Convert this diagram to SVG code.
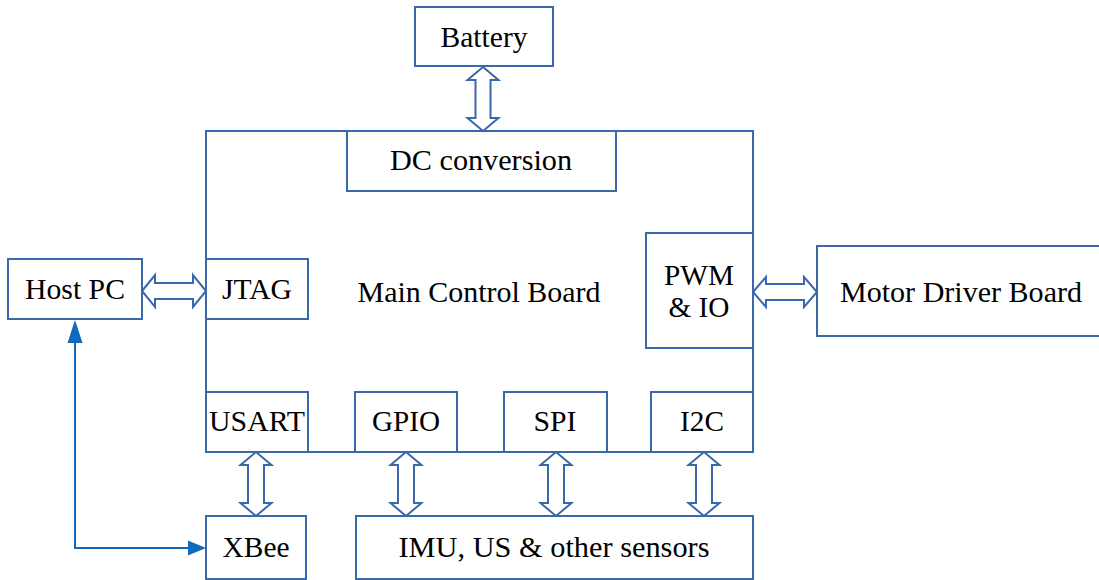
<svg xmlns="http://www.w3.org/2000/svg" width="1099" height="580" viewBox="0 0 1099 580">
<style>
.box{fill:#ffffff;stroke:#3a68aa;stroke-width:2}
.frame{fill:none;stroke:#3a68aa;stroke-width:2}
.dbl{fill:#ffffff;stroke:#3a68aa;stroke-width:2;stroke-linejoin:miter}
.lbl{font-family:'Liberation Serif','Times New Roman',Tinos,Times,'DejaVu Serif',serif;font-size:29px;fill:#000000;text-anchor:middle}
.link{fill:none;stroke:#0f69bd;stroke-width:2}
.head{fill:#0f69bd;stroke:none}
</style>
<rect width="1099" height="580" fill="#ffffff"/>
<g id="main-board">
<rect class="frame" x="206" y="131" width="547" height="321"/>
<text class="lbl" x="479" y="302" textLength="243" lengthAdjust="spacingAndGlyphs">Main Control Board</text>
</g>
<g id="battery">
<rect class="box" x="415" y="7" width="138" height="59"/>
<text class="lbl" x="484" y="47" textLength="87" lengthAdjust="spacingAndGlyphs">Battery</text>
</g>
<g id="dc-conversion">
<rect class="box" x="347" y="131" width="269" height="60"/>
<text class="lbl" x="481" y="170" textLength="182" lengthAdjust="spacingAndGlyphs">DC conversion</text>
</g>
<g id="host-pc">
<rect class="box" x="8" y="259" width="134" height="60"/>
<text class="lbl" x="75" y="299" textLength="100" lengthAdjust="spacingAndGlyphs">Host PC</text>
</g>
<g id="jtag">
<rect class="box" x="206" y="259" width="102" height="60"/>
<text class="lbl" x="257" y="299" textLength="70" lengthAdjust="spacingAndGlyphs">JTAG</text>
</g>
<g id="pwm-io">
<rect class="box" x="646" y="233" width="107" height="115"/>
<text class="lbl" x="699" y="285" textLength="70" lengthAdjust="spacingAndGlyphs">PWM</text>
<text class="lbl" x="699" y="317" textLength="61" lengthAdjust="spacingAndGlyphs">&amp; IO</text>
</g>
<g id="motor-driver">
<rect class="box" x="817" y="246" width="284" height="90"/>
<text class="lbl" x="961" y="302" textLength="242" lengthAdjust="spacingAndGlyphs">Motor Driver Board</text>
</g>
<g id="usart">
<rect class="box" x="206" y="392" width="102" height="60"/>
<text class="lbl" x="257" y="431" textLength="96" lengthAdjust="spacingAndGlyphs">USART</text>
</g>
<g id="gpio">
<rect class="box" x="355" y="392" width="102" height="60"/>
<text class="lbl" x="406" y="431" textLength="68" lengthAdjust="spacingAndGlyphs">GPIO</text>
</g>
<g id="spi">
<rect class="box" x="504" y="392" width="103" height="60"/>
<text class="lbl" x="555" y="431" textLength="43" lengthAdjust="spacingAndGlyphs">SPI</text>
</g>
<g id="i2c">
<rect class="box" x="651" y="392" width="102" height="60"/>
<text class="lbl" x="702" y="431" textLength="44" lengthAdjust="spacingAndGlyphs">I2C</text>
</g>
<g id="xbee">
<rect class="box" x="206" y="516" width="100" height="63"/>
<text class="lbl" x="256" y="557" textLength="67" lengthAdjust="spacingAndGlyphs">XBee</text>
</g>
<g id="sensors">
<rect class="box" x="356" y="516" width="397" height="63"/>
<text class="lbl" x="554" y="557" textLength="311" lengthAdjust="spacingAndGlyphs">IMU, US &amp; other sensors</text>
</g>
<g id="connectors">
<polygon class="dbl" points="483,67 498.5,80 490.5,80 490.5,118 498.5,118 483,131 467.5,118 475.5,118 475.5,80 467.5,80"/>
<polygon class="dbl" points="142,291 155,275 155,283 193,283 193,275 206,291 193,307 193,299 155,299 155,307"/>
<polygon class="dbl" points="753,292 766,277 766,284 804,284 804,277 817,292 804,307 804,300 766,300 766,307"/>
<polygon class="dbl" points="256,452 271.5,465 264,465 264,503 271.5,503 256,516 240.5,503 248,503 248,465 240.5,465"/>
<polygon class="dbl" points="406,452 421.5,465 414,465 414,503 421.5,503 406,516 390.5,503 398,503 398,465 390.5,465"/>
<polygon class="dbl" points="556,452 571.5,465 564,465 564,503 571.5,503 556,516 540.5,503 548,503 548,465 540.5,465"/>
<polygon class="dbl" points="704,452 719.5,465 712,465 712,503 719.5,503 704,516 688.5,503 696,503 696,465 688.5,465"/>
<polyline class="link" points="75,342 75,548 189,548"/>
<polygon class="head" points="75,320 82.5,343 67.5,343"/>
<polygon class="head" points="206,548 188,540.5 188,555.5"/>
</g>
</svg>
